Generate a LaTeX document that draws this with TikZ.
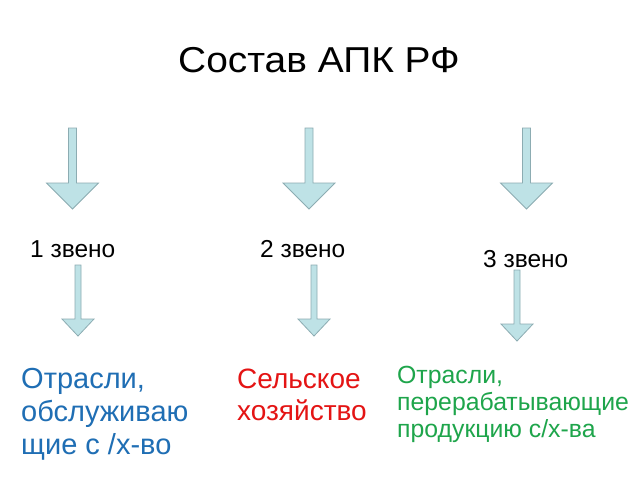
\documentclass[tikz,border=0pt]{standalone}
\usepackage{fontspec}
\setmainfont{Liberation Sans}
\definecolor{arrfill}{RGB}{190,226,230}
\definecolor{arrline}{RGB}{140,172,178}
\definecolor{txtblue}{RGB}{31,110,180}
\definecolor{txtred}{RGB}{228,20,20}
\definecolor{txtgreen}{RGB}{30,165,75}
\tikzset{
  bigarrow/.pic={\draw[arrline,fill=arrfill,line width=0.8pt,line join=miter]
    (-4,0) -- (4,0) -- (4,55) -- (26,55) -- (0,81) -- (-26,55) -- (-4,55) -- cycle;},
  smallarrow/.pic={\draw[arrline,fill=arrfill,line width=0.8pt,line join=miter]
    (-3,0) -- (3,0) -- (3,54) -- (16,54) -- (0,71) -- (-16,54) -- (-3,54) -- cycle;},
  title/.style={inner sep=0pt,anchor=base,font=\fontsize{36}{40}\selectfont},
  lvl/.style={inner sep=0pt,anchor=base west,font=\fontsize{24.5}{28}\selectfont},
  bluetxt/.style={inner sep=0pt,anchor=base west,text=txtblue,font=\fontsize{29}{33}\selectfont},
  redtxt/.style={inner sep=0pt,anchor=base west,text=txtred,font=\fontsize{28}{33}\selectfont},
  greentxt/.style={inner sep=0pt,anchor=base west,text=txtgreen,font=\fontsize{24.8}{27}\selectfont},
}
\begin{document}
\begin{tikzpicture}[x=1pt,y=-1pt]
\useasboundingbox[fill=white] (0,0) rectangle (640,480);
\node[title] (t) at (319,72) {\scalebox{1.08}[1]{Состав АПК РФ}};
\pic at (72.5,128) {bigarrow};
\pic at (309,128) {bigarrow};
\pic at (526.5,128) {bigarrow};
\node[lvl] (l1) at (30,257) {1 звено};
\node[lvl] (l2) at (260,257) {2 звено};
\node[lvl] (l3) at (483,267) {3 звено};
\pic at (78,265) {smallarrow};
\pic at (314,265) {smallarrow};
\pic at (517,270) {smallarrow};
\node[bluetxt] (b1) at (21,388) {Отрасли,};
\node[bluetxt] (b2) at (21,421) {обслуживаю};
\node[bluetxt] (b3) at (21,454) {щие с /х-во};
\node[redtxt] (r1) at (237,388) {Сельское};
\node[redtxt] (r2) at (237,420) {хозяйство};
\node[greentxt] (g1) at (397,383) {Отрасли,};
\node[greentxt] (g2) at (397,410) {перерабатывающие};
\node[greentxt] (g3) at (397,437) {продукцию с/х-ва};
\end{tikzpicture}
\end{document}
